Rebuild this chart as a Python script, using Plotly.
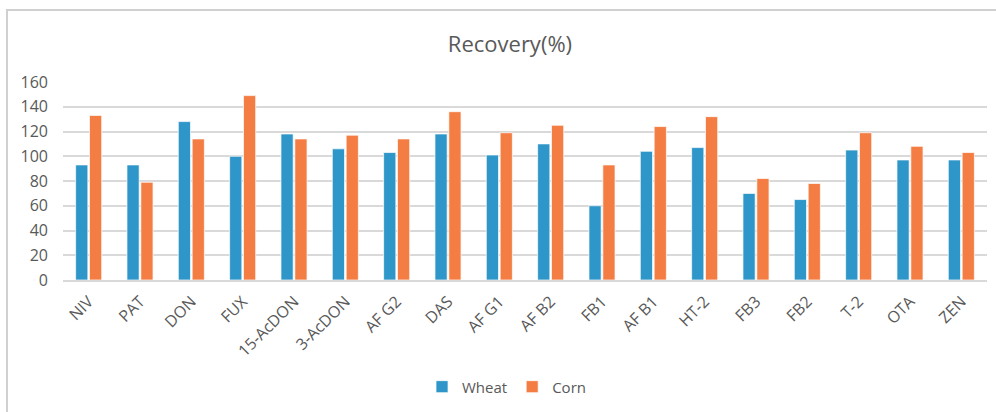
import plotly.graph_objects as go

# Recovery (%) of each mycotoxin in the two matrices
toxins = ["NIV", "PAT", "DON", "FUX", "15-AcDON", "3-AcDON", "AF G2", "DAS", "AF G1",
          "AF B2", "FB1", "AF B1", "HT-2", "FB3", "FB2", "T-2", "OTA", "ZEN"]
wheat = [93, 93, 128, 100, 118, 106, 103, 118, 101, 110, 60, 104, 107, 70, 65, 105, 97, 97]
corn = [133, 79, 114, 149, 114, 117, 114, 136, 119, 125, 93, 124, 132, 82, 78, 119, 108, 103]
y_ticks = [0, 20, 40, 60, 80, 100, 120, 140, 160]

FONT = "Open Sans, Liberation Sans, sans-serif"
TEXT = "#595959"
GRID = "#D9D9D9"

fig = go.Figure()
fig.add_trace(go.Bar(name="Wheat", x=toxins, y=wheat,
                     marker=dict(color="#2E96C8", line=dict(color="rgba(255,255,255,0.7)", width=1))))
fig.add_trace(go.Bar(name="Corn", x=toxins, y=corn,
                     marker=dict(color="#F47D43", line=dict(color="rgba(255,255,255,0.7)", width=1))))

fig.update_layout(
    width=996, height=412,
    margin=dict(l=63, r=9, t=82, b=132),
    paper_bgcolor="white", plot_bgcolor="white",
    barmode="group", bargap=0.46, bargroupgap=0.12,
    font=dict(family=FONT, color=TEXT, size=15),
    title=dict(text="Recovery(%)", x=0.512, xanchor="center", y=0.893, yanchor="middle",
               font=dict(family=FONT, size=22, color=TEXT)),
    legend=dict(orientation="h", x=0.48, xanchor="center", y=-0.54, yanchor="middle",
                font=dict(family=FONT, size=15, color=TEXT), itemwidth=30,
                traceorder="normal"),
    showlegend=True,
)
fig.update_xaxes(tickangle=-45, showgrid=False, showline=True, linecolor=GRID, linewidth=2,
                 ticks="", ticklabelstandoff=4, tickfont=dict(family=FONT, size=16, color=TEXT))
fig.update_yaxes(range=[0, 160], tickvals=y_ticks, showgrid=True, gridcolor=GRID, gridwidth=2,
                 zeroline=False, showline=False, ticks="", ticklabelstandoff=14,
                 tickfont=dict(family=FONT, size=16, color=TEXT))

# chart-area frame (top and left edges are inside the view)
fig.add_shape(type="rect", xref="paper", yref="paper",
              x0=-0.0606, y0=-1.6, x1=1.3, y1=1.364,
              line=dict(color="#D0D0D0", width=2), fillcolor="rgba(0,0,0,0)", layer="below")

fig.write_html("out.html")
